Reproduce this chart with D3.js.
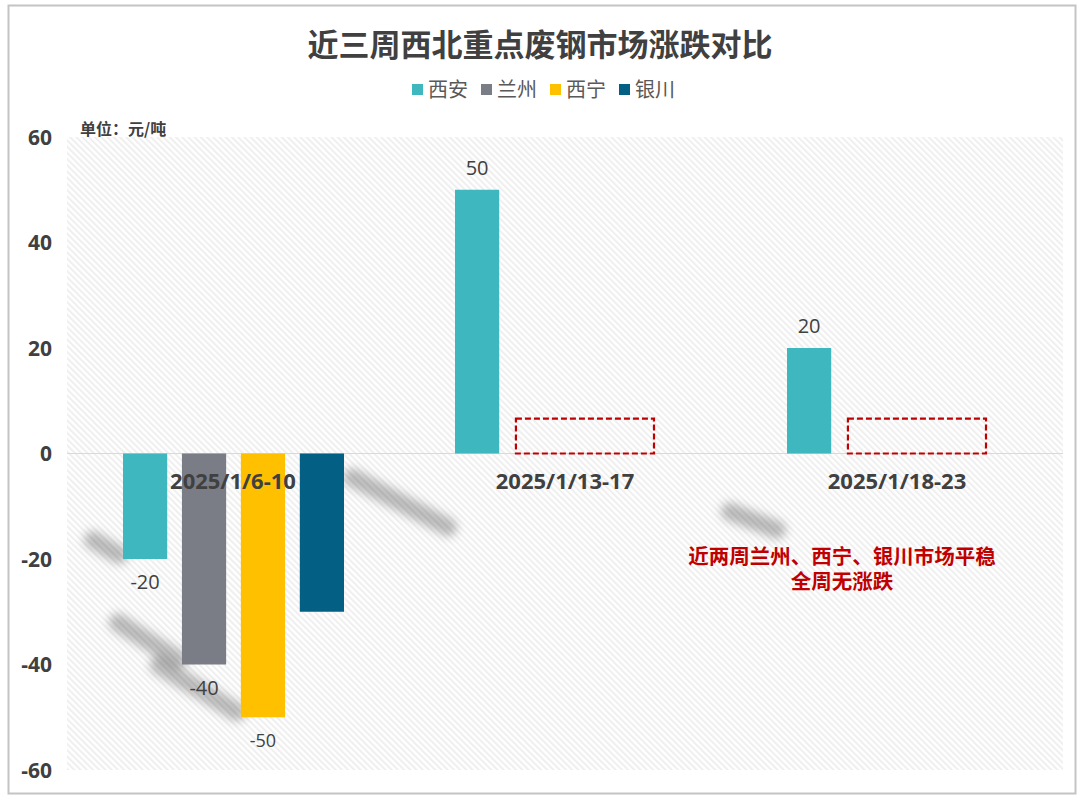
<!DOCTYPE html>
<html>
<head>
<meta charset="utf-8">
<script src="https://cdn.jsdelivr.net/npm/d3@7/dist/d3.min.js"></script>
<style>
  html, body { margin: 0; padding: 0; background: #ffffff; }
  svg { display: block; }
</style>
</head>
<body>
<svg id="chart" width="1080" height="803"></svg>
<script>
// ---- data ----
const categories = ["2025/1/6-10", "2025/1/13-17", "2025/1/18-23"];
const seriesNames = ["西安", "兰州", "西宁", "银川"];
const xianValues = [-20, 50, 20];
const lanzhouValues = [-40, 0, 0];
const xiningValues = [-50, 0, 0];
const yinchuanValues = [-30, 0, 0];
const xianLabels = ["-20", "50", "20"];
const lanzhouLabels = ["-40", null, null];
const xiningLabels = ["-50", null, null];
const yinchuanLabels = [null, null, null];
const yTicks = [-60, -40, -20, 0, 20, 40, 60];
const title = "近三周西北重点废钢市场涨跌对比";
const unitText = "单位：元/吨";
const noteLines = ["近两周兰州、西宁、银川市场平稳", "全周无涨跌"];

const seriesValues = [xianValues, lanzhouValues, xiningValues, yinchuanValues];
const seriesLabels = [xianLabels, lanzhouLabels, xiningLabels, yinchuanLabels];
const colors = ["#3fb7be", "#7a7c86", "#ffc000", "#045f85"];

const latin = "'Open Sans', 'Noto Sans CJK SC', sans-serif";
const cjk = "'Noto Sans CJK SC', 'Open Sans', sans-serif";
const textColor = "#404040";

const svg = d3.select("#chart");
const plot = { left: 67, right: 1063, top: 137, bottom: 770 };

// frame
svg.append("rect").attr("x", 8.5).attr("y", 5.5).attr("width", 1067).attr("height", 788)
  .attr("fill", "#fff").attr("stroke", "#c4c4c4").attr("stroke-width", 2);

const defs = svg.append("defs");
const pat = defs.append("pattern").attr("id", "hatch").attr("patternUnits", "userSpaceOnUse")
  .attr("width", 4.4).attr("height", 4.4).attr("patternTransform", "rotate(-45)");
pat.append("rect").attr("width", 4.4).attr("height", 4.4).attr("fill", "#ffffff");
pat.append("line").attr("x1", 1).attr("y1", 0).attr("x2", 1).attr("y2", 4.4)
  .attr("stroke", "#efefef").attr("stroke-width", 2);
const blur = defs.append("filter").attr("id", "blur").attr("x", "-50%").attr("y", "-50%")
  .attr("width", "200%").attr("height", "200%");
blur.append("feGaussianBlur").attr("stdDeviation", 5);

// scales
const x0 = d3.scaleBand().domain(categories).range([plot.left, plot.right]).padding(0);
const x1 = d3.scaleBand().domain(seriesNames).range([56, 277]).paddingInner(0.25).paddingOuter(0);
const y = d3.scaleLinear().domain([-60, 60]).range([plot.bottom, plot.top]);
const bw = x1.bandwidth();

// plot background
svg.append("rect").attr("x", plot.left).attr("y", plot.top)
  .attr("width", plot.right - plot.left).attr("height", plot.bottom - plot.top)
  .attr("fill", "url(#hatch)");

// title
svg.append("text").attr("x", 540).attr("y", 56).attr("text-anchor", "middle")
  .attr("font-family", cjk).attr("font-weight", 700).attr("font-size", 31)
  .attr("fill", textColor).text(title);

// legend
const legend = svg.append("g").attr("transform", "translate(412,90)");
let lx = 0;
seriesNames.forEach((n, i) => {
  const g = legend.append("g").attr("transform", `translate(${lx},0)`);
  g.append("rect").attr("x", 0).attr("y", -6).attr("width", 11).attr("height", 11).attr("fill", colors[i]);
  const t = g.append("text").attr("x", 16).attr("y", 0).attr("dy", "0.35em")
    .attr("font-family", cjk).attr("font-size", 20).attr("fill", "#595959").text(n);
  lx += 16 + t.node().getComputedTextLength() + 13;
});

// unit
svg.append("text").attr("x", 80).attr("y", 135).attr("font-family", cjk).attr("font-weight", 700)
  .attr("font-size", 16).attr("fill", textColor).text(unitText);

// y axis (labels only)
const yAxis = d3.axisLeft(y).tickValues(yTicks).tickSize(0).tickPadding(0).tickFormat(d => String(d));
const ya = svg.append("g").attr("transform", "translate(52,0)").call(yAxis);
ya.select(".domain").remove();
ya.selectAll("text").attr("font-family", latin).attr("font-weight", 700).attr("font-size", 21)
  .attr("fill", textColor).attr("dy", "0.35em");

// zero line
svg.append("line").attr("x1", plot.left).attr("x2", plot.right).attr("y1", y(0)).attr("y2", y(0))
  .attr("stroke", "#d9d9d9").attr("stroke-width", 1.2);

// decorative shadows (anchored to bars)
const bx = (ci, si) => x0(categories[ci]) + x1(seriesNames[si]);
const shadows = [
  [bx(0, 0) - 30, y(xianValues[0]) - 19, bx(0, 0) - 4, y(xianValues[0]) - 4],
  [bx(0, 1) - 64, y(lanzhouValues[0]) - 42, bx(0, 1) - 4, y(lanzhouValues[0]) - 5],
  [bx(0, 2) - 82, y(xiningValues[0]) - 52, bx(0, 2) - 4, y(xiningValues[0]) - 5],
  [bx(0, 3) + bw + 8, y(-4.5), bx(0, 3) + bw + 104, y(-14)],
  [x0(categories[2]) - 1, y(-11), x0(categories[2]) + 46, y(-14.5)]
];
svg.append("g").attr("filter", "url(#blur)").selectAll("line").data(shadows).join("line")
  .attr("x1", d => d[0]).attr("y1", d => d[1]).attr("x2", d => d[2]).attr("y2", d => d[3])
  .attr("stroke", "#000").attr("stroke-opacity", 0.26).attr("stroke-width", 18).attr("stroke-linecap", "round");

// bars
const barData = [];
categories.forEach((c, ci) => seriesNames.forEach((s, si) => {
  barData.push({ c, s, si, v: seriesValues[si][ci], label: seriesLabels[si][ci] });
}));
svg.append("g").selectAll("rect").data(barData.filter(d => d.v !== 0)).join("rect")
  .attr("x", d => x0(d.c) + x1(d.s)).attr("width", bw)
  .attr("y", d => y(Math.max(0, d.v))).attr("height", d => Math.abs(y(d.v) - y(0)))
  .attr("fill", d => colors[d.si]);

// value labels
svg.append("g").selectAll("text").data(barData.filter(d => d.label)).join("text")
  .attr("x", d => x0(d.c) + x1(d.s) + bw / 2)
  .attr("y", d => d.v > 0 ? y(d.v) - 15 : y(d.v) + 30)
  .attr("text-anchor", "middle").attr("font-family", latin)
  .attr("font-size", d => d.v === -50 ? 18 : 20).attr("fill", textColor).text(d => d.label);

// dashed boxes over the zero-valued bars
const boxCats = categories.slice(1);
svg.append("g").selectAll("rect").data(boxCats).join("rect")
  .attr("x", c => x0(c) + x1("兰州") + 2)
  .attr("y", y(6.6))
  .attr("width", c => (x1("银川") + bw - 22) - (x1("兰州") + 2))
  .attr("height", y(0) - y(6.6))
  .attr("fill", "none").attr("stroke", "#c00000").attr("stroke-width", 2.2).attr("stroke-dasharray", "6,3");

// category labels
svg.append("g").selectAll("text").data(categories).join("text")
  .attr("x", c => x0(c) + x0.bandwidth() / 2).attr("y", y(0) + 35)
  .attr("text-anchor", "middle").attr("font-family", latin).attr("font-weight", 700)
  .attr("font-size", 22).attr("fill", textColor).text(c => c);

// note (one text block, two lines)
const note = svg.append("text").attr("text-anchor", "middle")
  .attr("font-family", cjk).attr("font-weight", 700).attr("font-size", 20.5)
  .attr("fill", "#c00000");
note.selectAll("tspan").data(noteLines).join("tspan")
  .attr("x", 842).attr("y", (d, i) => 564 + i * 24.5).text(d => d);
</script>
</body>
</html>
